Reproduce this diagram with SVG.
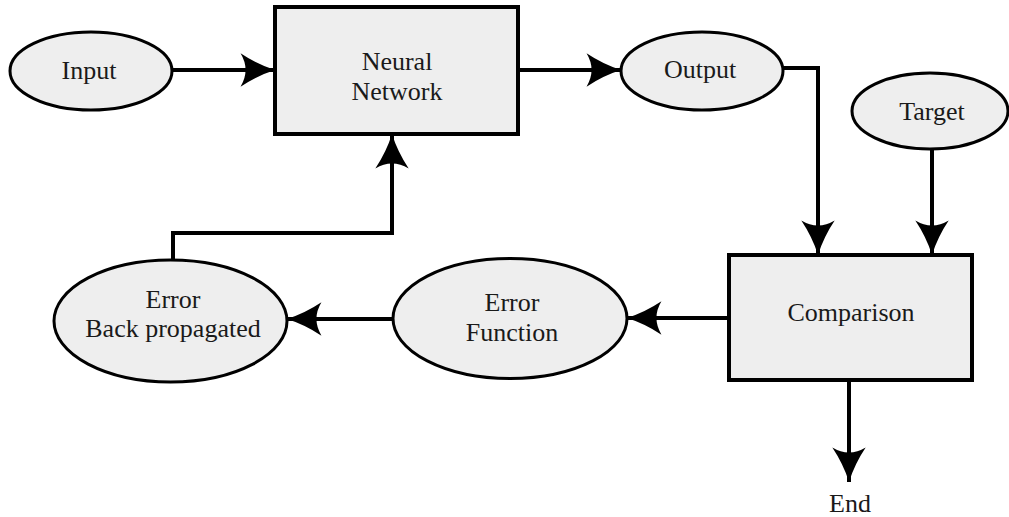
<svg xmlns="http://www.w3.org/2000/svg" width="1009" height="517" viewBox="0 0 1009 517">
  <style>
    .box { fill: #eeeeee; stroke: #000; stroke-width: 4; }
    .oval { fill: #eeeeee; stroke: #000; stroke-width: 3; }
    .lbl { font-family: 'Liberation Serif', 'DejaVu Serif', 'Times New Roman', serif; font-size: 26px; fill: #1a1a1a; text-anchor: middle; }
    .wire { fill: none; stroke: #000; stroke-width: 4; marker-end: url(#head); }
  </style>
  <defs>
    <marker id="head" markerUnits="userSpaceOnUse" markerWidth="40" markerHeight="40" viewBox="-34 -17 36 34" refX="0" refY="0" orient="auto">
      <path d="M0,0 Q-16,-5 -31,-15 Q-22,0 -31,15 Q-16,5 0,0 Z" fill="#000"/>
    </marker>
  </defs>

  <rect width="1009" height="517" fill="#fff"/>

  <g id="connectors">
    <path class="wire" d="M172,70 H275"/>
    <path class="wire" d="M518,70 H621"/>
    <path class="wire" d="M783,68 H818 V255"/>
    <path class="wire" d="M932,150 V255"/>
    <path class="wire" d="M729,318 H627"/>
    <path class="wire" d="M392,319 H287"/>
    <path class="wire" d="M173,260 V233 H392 V134"/>
    <path class="wire" d="M849,380 V482"/>
  </g>

  <g id="input">
    <ellipse class="oval" cx="91" cy="71" rx="81" ry="39"/>
    <text class="lbl" x="89" y="79" font-family="Liberation Serif, DejaVu Serif, serif">Input</text>
  </g>

  <g id="neural-network">
    <rect class="box" x="275" y="7" width="243" height="127"/>
    <text class="lbl" x="397" y="70">Neural</text>
    <text class="lbl" x="397" y="100">Network</text>
  </g>

  <g id="output">
    <ellipse class="oval" cx="702" cy="71" rx="81" ry="39"/>
    <text class="lbl" x="700" y="78">Output</text>
  </g>

  <g id="target">
    <ellipse class="oval" cx="930" cy="111" rx="78" ry="38"/>
    <text class="lbl" x="932" y="120">Target</text>
  </g>

  <g id="comparison">
    <rect class="box" x="729" y="255" width="243" height="125"/>
    <text class="lbl" x="851" y="321">Comparison</text>
  </g>

  <g id="error-function">
    <ellipse class="oval" cx="510" cy="318.5" rx="117" ry="60"/>
    <text class="lbl" x="512" y="311">Error</text>
    <text class="lbl" x="512" y="341">Function</text>
  </g>

  <g id="error-back-propagated">
    <ellipse class="oval" cx="170.5" cy="321" rx="116.5" ry="61"/>
    <text class="lbl" x="173" y="308">Error</text>
    <text class="lbl" x="173" y="337">Back propagated</text>
  </g>

  <g id="end">
    <text class="lbl" x="850" y="512">End</text>
  </g>
</svg>
